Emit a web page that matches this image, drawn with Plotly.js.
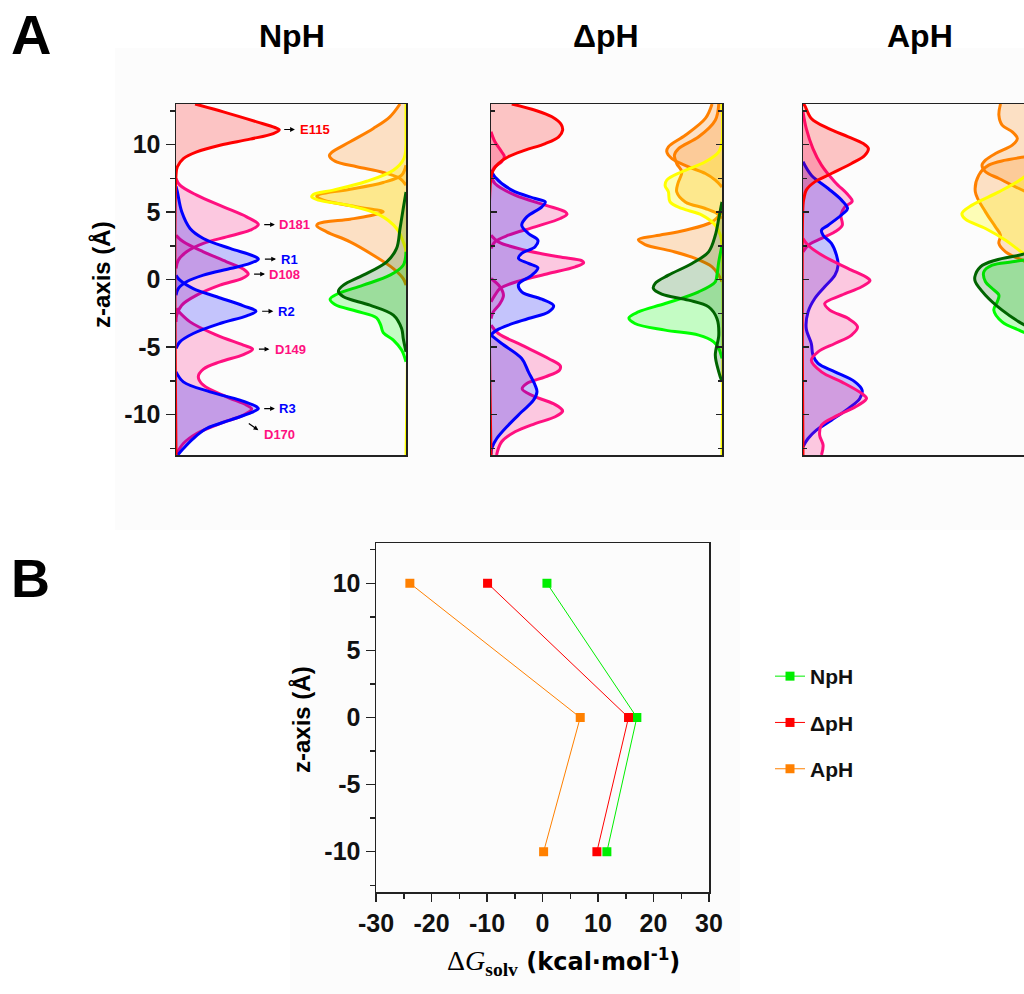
<!DOCTYPE html>
<html>
<head>
<meta charset="utf-8">
<script src="https://cdn.plot.ly/plotly-3.0.1.min.js"></script>
<style>
  html, body { margin: 0; padding: 0; overflow: hidden; background: #ffffff; }
  #fig { width: 1040px; height: 994px; }
</style>
</head>
<body>
<div id="fig"></div>
<script>
// ---------- Panel A: density profiles along z (Å); density in % of panel width ----------
// NpH, left-hand residues
const npE115Z = [13, 12.42, 11.68, 11.26, 11.09, 10.81, 10.40, 9.95, 9.46, 8.96, 8.35, 7.73, -13];
const npE115D = [8.3, 20.6, 35.1, 43.0, 44.9, 42.3, 32.2, 19.1, 9.0, 3.2, 0.6, 0, 0];
const npD181Z = [7.48, 6.99, 6.25, 5.38, 4.64, 4.07, 3.65, 3.16, 2.67, 2.05, 1.43, 0.81];
const npD181D = [0, 1.7, 9.0, 20.6, 30.7, 35.8, 32.2, 22.0, 11.9, 4.6, 1.0, 0];
const npD108Z = [3.28, 2.79, 2.05, 1.31, 0.69, 0.40, 0.07, -0.42, -1.16, -1.90, -2.64, -3.14];
const npD108D = [0, 3.2, 11.9, 22.0, 30.0, 31.4, 28.6, 19.1, 9.0, 2.5, 0.3, 0];
const npD149Z = [-2.15, -3.14, -4.12, -4.86, -5.16, -5.56, -6.10, -6.64, -7.21, -7.83, -8.69, -9.31, -9.60, -10.05, -10.67, -11.41, -12.15, -12.89, -13];
const npD149D = [0, 6.1, 17.7, 29.3, 33.3, 29.3, 19.1, 11.9, 9.7, 11.9, 22.0, 30.7, 32.9, 29.3, 19.1, 9.0, 3.2, 0.3, 0];
const npR1Z = [6.9, 6.49, 5.01, 3.78, 3.04, 2.30, 1.75, 1.51, 1.19, 0.81, 0.32, -0.17, -0.67, -1.16];
const npR1D = [0, 0.6, 2.5, 6.1, 11.9, 23.5, 33.6, 35.8, 32.2, 23.5, 11.9, 4.6, 1.0, 0];
const npR2Z = [0.32, -0.05, -0.67, -1.28, -1.95, -2.35, -2.69, -3.26, -4.00, -4.62, -5.11];
const npR2D = [0, 1.7, 7.5, 17.7, 29.3, 34.8, 30.7, 19.1, 7.5, 1.7, 0];
const npR3Z = [-6.84, -7.58, -8.32, -8.94, -9.43, -9.56, -9.85, -10.42, -11.04, -11.78, -12.52, -13];
const npR3D = [0, 3.2, 14.8, 27.8, 35.1, 35.8, 32.9, 23.5, 13.3, 7.5, 3.2, 0.8];
// NpH, right-hand profiles (measured from the right edge)
const npOrgAZ = [13, 12.05, 11.19, 10.20, 9.41, 9.16, 8.77, 8.35, 7.93, 7.48, 6.99];
const npOrgAD = [2.6, 7.0, 14.2, 24.3, 32.3, 33.3, 30.9, 21.4, 9.9, 2.6, 0];
const npOrgBZ = [8.47, 7.73, 7.19, 6.69, 6.32, 6.17, 5.88, 5.38, 5.01, 4.72, 4.47, 4.15, 3.98, 3.53, 2.79, 1.80, 0.81, 0.07, -0.42];
const npOrgBD = [0, 1.9, 9.9, 24.3, 37.4, 38.8, 35.9, 21.4, 9.9, 15.7, 24.3, 38.1, 38.8, 34.5, 24.3, 14.2, 5.5, 1.2, 0];
const npYelZ = [13, 10.5, 9.95, 8.96, 8.10, 7.28, 6.62, 6.30, 6.12, 5.88, 5.46, 4.77, 3.78, 2.79, 2.05, -13];
const npYelD = [0, 0, 0, 0.9, 5.5, 17.1, 31.6, 40.3, 41.0, 38.1, 24.3, 11.3, 4.1, 1.2, 0, 0];
const npDkGZ = [6.49, 5.26, 3.78, 2.30, 1.31, 0.32, -0.42, -0.86, -1.28, -1.90, -2.64, -3.63, -4.37, -5.36];
const npDkGD = [0, 1.2, 2.6, 4.1, 8.4, 18.6, 27.2, 29.4, 27.2, 15.7, 5.5, 1.9, 1.2, 0];
const npLtGZ = [2.05, 1.06, 0.32, -0.42, -1.09, -1.46, -1.85, -2.35, -2.84, -3.38, -3.93, -4.49, -5.23, -6.10];
const npLtGD = [0, 1.2, 7.0, 18.6, 30.1, 33.0, 30.9, 21.4, 12.8, 11.0, 9.9, 5.5, 1.9, 0];

// ΔpH, left-hand residues
const dpE115Z = [13, 12.54, 12.05, 11.48, 11.06, 10.57, 10.07, 9.58, 9.09, 8.59, 8.10, 7.60, -13];
const dpE115D = [9.0, 19.1, 26.4, 30.4, 31.0, 29.3, 23.5, 14.8, 7.5, 3.2, 1.0, 0, 0];
const dpDaZ = [10.94, 10.20, 9.46, 9.09, 8.72, 8.35, 7.85];
const dpDaD = [0, 1.7, 4.6, 5.8, 4.6, 1.7, 0];
const dpDbZ = [7.73, 7.11, 6.25, 5.51, 5.01, 4.84, 4.52, 3.90, 3.28, 2.79, 2.30];
const dpDbD = [0, 1.7, 10.4, 23.5, 32.2, 32.9, 30.0, 19.1, 7.5, 1.7, 0];
const dpDcZ = [3.28, 2.79, 2.17, 1.68, 1.38, 1.23, 0.94, 0.44, -0.12, -0.67, -1.16, -1.65];
const dpDcD = [0, 3.2, 14.8, 29.3, 39.4, 40.1, 36.5, 24.9, 11.9, 3.9, 1.7, 0];
const dpDdZ = [0.07, -0.54, -1.16, -1.78, -2.40, -2.89];
const dpDdD = [0, 3.9, 5.4, 3.9, 1.0, 0];
const dpDeZ = [-3.38, -4.00, -4.86, -5.85, -6.40, -6.72, -7.21, -7.70, -8.10, -8.60, -9.20, -9.60, -9.75, -10.17, -10.67, -11.28, -12.02, -13];
const dpDeD = [0, 3.2, 13.3, 24.9, 30.0, 29.6, 23.5, 15.5, 13.5, 18.0, 27.0, 30.5, 31.0, 27.8, 19.1, 10.4, 4.6, 2.4];
const dpRaZ = [8.10, 7.60, 6.62, 6.00, 5.75, 5.38, 4.64, 4.02, 3.41, 2.91, 2.42, 1.93, 1.56, 1.19, 0.86, 0.32, -0.37, -0.91, -1.46, -1.95, -2.40, -2.89, -3.38, -3.75, -4.00, -4.25];
const dpRaD = [0, 1.7, 9.0, 19.1, 23.5, 22.0, 15.5, 13.3, 16.2, 20.3, 19.1, 13.3, 11.9, 16.2, 20.3, 17.7, 11.9, 13.3, 22.0, 27.1, 24.9, 16.2, 7.5, 2.5, 0.6, 0];
const dpRbZ = [-4.12, -4.74, -5.85, -6.84, -7.83, -8.32, -8.94, -9.80, -10.79, -11.78, -12.52, -12.96];
const dpRbD = [0, 4.6, 13.3, 16.2, 19.1, 19.9, 18.4, 13.3, 7.5, 2.5, 0.3, 0];
// ΔpH, right-hand profiles
const dpOrgAZ = [13, 11.93, 10.69, 9.83, 9.46, 8.96, 8.35, 7.85, 7.36, 6.86];
const dpOrgAD = [4.3, 7.2, 15.9, 23.2, 23.9, 21.7, 14.5, 7.2, 2.9, 0];
const dpOrgBZ = [13, 11.80, 10.57, 9.70, 9.21, 8.59, 7.98, 7.11, 6.49, 5.75, 5.26, 4.89, 4.52];
const dpOrgBD = [1.4, 2.9, 10.1, 18.8, 20.6, 19.6, 17.4, 19.1, 19.6, 15.9, 7.2, 2.2, 0];
const dpOrgCZ = [5.01, 4.27, 3.65, 3.23, 2.96, 2.59, 2.10, 1.56, 0.94, 0.32, -0.17];
const dpOrgCD = [0, 4.3, 15.9, 29.0, 36.2, 33.3, 21.7, 11.6, 4.3, 1.4, 0];
const dpYelZ = [13, 10.2, 9.46, 8.72, 7.98, 7.36, 6.94, 6.49, 5.75, 5.26, 4.77, 4.02, 3.28, 2.54, -13];
const dpYelD = [0, 0, 1.4, 7.2, 17.4, 23.9, 24.6, 23.2, 22.5, 17.4, 8.7, 2.9, 0.7, 0, 0];
const dpDkGZ = [5.75, 4.52, 3.28, 2.05, 1.19, 0.32, -0.30, -0.67, -1.09, -1.53, -2.03, -2.89, -4.12, -5.60, -6.84, -7.58];
const dpDkGD = [0, 1.4, 2.9, 5.8, 13.0, 23.2, 29.0, 29.7, 26.1, 14.5, 5.8, 2.2, 1.4, 2.9, 1.4, 0];
const dpLtGZ = [2.54, 1.31, 0.32, -0.17, -0.91, -1.78, -2.40, -2.84, -3.26, -3.75, -4.12, -4.62, -5.11, -5.85];
const dpLtGD = [0, 1.4, 2.2, 2.9, 10.1, 24.6, 36.2, 40.3, 37.7, 24.6, 10.1, 3.6, 1.4, 0];

// ApH, left-hand residues
const apE115Z = [13, 12.9, 11.93, 11.19, 10.57, 10.07, 9.70, 9.21, 8.59, 7.85, 7.23, 6.62, 6.00, 5.51, -13];
const apE115D = [0, 0.7, 3.6, 10.9, 19.6, 26.1, 28.3, 26.8, 21.0, 12.3, 5.1, 1.4, 0.4, 0, 0];
const apDaZ = [12.42, 11.19, 9.70, 8.47, 7.23, 6.25, 5.80, 5.38, 4.77, 4.02, 3.53, 3.04, 2.62, 2.05];
const apDaD = [0, 1.4, 4.3, 8.0, 13.8, 19.6, 21.3, 18.1, 16.4, 17.0, 13.8, 8.0, 2.9, 0];
const apRaZ = [8.72, 7.73, 6.74, 5.88, 5.26, 4.89, 4.02, 3.65, 3.28, 2.67, 1.80, 1.06, 0.32, -0.54, -1.41, -2.40, -3.63, -4.74, -5.60, -6.22, -6.84, -7.58, -8.20, -8.81, -9.56, -10.42, -11.16, -11.78, -12.39];
const apRaD = [0, 3.6, 10.9, 16.7, 19.3, 17.4, 10.9, 8.0, 8.7, 12.3, 14.5, 15.2, 13.8, 9.4, 5.1, 2.2, 1.4, 3.6, 4.3, 6.5, 13.8, 22.5, 25.6, 24.6, 19.6, 12.3, 5.8, 2.2, 0];
const apDbZ = [3.04, 2.54, 1.68, 0.81, 0.07, -0.10, -0.54, -1.16, -1.78, -2.27, -2.89, -3.51, -4.12, -4.74, -5.36, -5.98, -6.84, -7.58, -8.44, -8.81, -9.31, -10.05, -10.79, -11.53, -12.27, -13];
const apDbD = [0, 2.2, 9.4, 19.6, 28.3, 29.0, 25.4, 16.7, 9.4, 11.6, 19.6, 23.6, 21.0, 13.8, 6.5, 3.6, 8.0, 16.7, 25.4, 27.5, 23.9, 15.2, 8.0, 7.2, 8.7, 8.0];
// ApH, right-hand profiles
const apOrgAZ = [13, 12.17, 11.43, 10.94, 10.44, 9.95, 9.33, 8.84, 8.47, 7.98, 7.48, 6.74, 6.25];
const apOrgAD = [14.5, 15.2, 13.8, 9.4, 7.2, 9.4, 16.7, 21.0, 22.5, 21.0, 15.2, 6.5, 0];
const apOrgBZ = [9.21, 9.09, 8.84, 8.47, 7.73, 6.49, 5.01, 3.90, 3.28, 2.67, 2.05, 1.43, 1.06];
const apOrgBD = [0, 3.6, 12.3, 19.6, 23.9, 25.4, 21.0, 16.7, 14.5, 15.2, 12.3, 5.1, 0];
const apYelZ = [8.22, 7.48, 6.49, 5.51, 4.89, 4.47, 3.78, 2.91, 2.17, 1.68, 1.31];
const apYelD = [0, 5.1, 15.2, 26.8, 31.2, 29.7, 21.0, 12.3, 6.5, 2.2, 0];
const apDkGZ = [2.05, 1.80, 1.43, 0.94, 0.20, -0.17, -1.16, -2.27, -3.14, -3.75];
const apDkGD = [0, 6.5, 16.7, 23.2, 25.6, 25.4, 21.0, 13.8, 6.5, 0];
const apLtGZ = [1.56, 1.31, 1.06, 0.57, -0.17, -0.67, -1.16, -1.65, -2.27, -3.14, -3.75, -4.25];
const apLtGD = [0, 9.4, 18.1, 21.7, 21.0, 18.1, 15.2, 15.9, 17.4, 13.8, 6.5, 0];

// ---------- Panel B: solvation free energy per z level ----------
const zLevels = [10, 0, -10];
const dGNpH = [0.8, 17.0, 11.6];
const dGdpH = [-9.9, 15.5, 9.8];
const dGApH = [-23.9, 6.8, 0.2];
const conditionNames = ['NpH', 'ΔpH', 'ApH'];

// tick labels (plain hyphen as minus sign)
const zTickVals = [-10, -5, 0, 5, 10];
const zTickText = ['-10', '-5', '0', '5', '10'];
const gTickVals = [-30, -20, -10, 0, 10, 20, 30];
const gTickText = ['-30', '-20', '-10', '0', '10', '20', '30'];

// residue labels in the NpH panel: [name, z, arrow tail, arrow head, text start]
const residueLabels = [
  ['E115', 11.11, 46.4, 51.7, 53.2],
  ['D181', 4.07, 37.7, 43.0, 44.1],
  ['R1', 1.51, 38.0, 43.5, 44.9],
  ['D108', 0.40, 33.3, 38.7, 39.7],
  ['R2', -2.35, 36.8, 42.3, 43.5],
  ['D149', -5.16, 35.4, 40.6, 42.0],
  ['R3', -9.56, 37.7, 43.0, 43.8]
];

// ---------- styling ----------
const FONT = 'Liberation Sans, Arial, sans-serif';
const C = {
  red: '#ff0000', blue: '#0000ff', pink: '#ff1080', orange: '#ff8000',
  yellow: '#ffff00', dkgreen: '#006400', ltgreen: '#00ff00'
};
const F = {
  red: 'rgba(255,0,0,0.22)', blue: 'rgba(0,0,255,0.22)', pink: 'rgba(255,16,128,0.22)',
  orange: 'rgba(255,128,0,0.22)', yellow: 'rgba(255,255,0,0.28)',
  dkgreen: 'rgba(0,100,0,0.2)', ltgreen: 'rgba(0,255,0,0.22)'
};
const labelColor = { E: C.red, D: C.pink, R: C.blue };

function profile(z, d, key, xa, ya) {
  return {
    type: 'scatter', mode: 'lines', x: d, y: z, xaxis: xa, yaxis: ya,
    line: { color: C[key], width: 3, shape: 'spline', smoothing: 1 },
    fill: 'tozerox', fillcolor: F[key], showlegend: false, hoverinfo: 'skip'
  };
}

const W = 1040, H = 994;
const px = v => v / W;
const py = v => 1 - v / H;

const traces = [
  // NpH
  profile(npD181Z, npD181D, 'pink', 'x', 'y'),
  profile(npD108Z, npD108D, 'pink', 'x', 'y'),
  profile(npD149Z, npD149D, 'pink', 'x', 'y'),
  profile(npR1Z, npR1D, 'blue', 'x', 'y'),
  profile(npR2Z, npR2D, 'blue', 'x', 'y'),
  profile(npR3Z, npR3D, 'blue', 'x', 'y'),
  profile(npE115Z, npE115D, 'red', 'x', 'y'),
  profile(npOrgAZ, npOrgAD, 'orange', 'x2', 'y'),
  profile(npOrgBZ, npOrgBD, 'orange', 'x2', 'y'),
  profile(npYelZ, npYelD, 'yellow', 'x2', 'y'),
  profile(npLtGZ, npLtGD, 'ltgreen', 'x2', 'y'),
  profile(npDkGZ, npDkGD, 'dkgreen', 'x2', 'y'),
  // ΔpH
  profile(dpDaZ, dpDaD, 'pink', 'x3', 'y3'),
  profile(dpDbZ, dpDbD, 'pink', 'x3', 'y3'),
  profile(dpDcZ, dpDcD, 'pink', 'x3', 'y3'),
  profile(dpDdZ, dpDdD, 'pink', 'x3', 'y3'),
  profile(dpDeZ, dpDeD, 'pink', 'x3', 'y3'),
  profile(dpRaZ, dpRaD, 'blue', 'x3', 'y3'),
  profile(dpRbZ, dpRbD, 'blue', 'x3', 'y3'),
  profile(dpE115Z, dpE115D, 'red', 'x3', 'y3'),
  profile(dpOrgAZ, dpOrgAD, 'orange', 'x4', 'y3'),
  profile(dpOrgBZ, dpOrgBD, 'orange', 'x4', 'y3'),
  profile(dpOrgCZ, dpOrgCD, 'orange', 'x4', 'y3'),
  profile(dpYelZ, dpYelD, 'yellow', 'x4', 'y3'),
  profile(dpLtGZ, dpLtGD, 'ltgreen', 'x4', 'y3'),
  profile(dpDkGZ, dpDkGD, 'dkgreen', 'x4', 'y3'),
  // ApH
  profile(apDaZ, apDaD, 'pink', 'x5', 'y4'),
  profile(apRaZ, apRaD, 'blue', 'x5', 'y4'),
  profile(apDbZ, apDbD, 'pink', 'x5', 'y4'),
  profile(apE115Z, apE115D, 'red', 'x5', 'y4'),
  profile(apOrgAZ, apOrgAD, 'orange', 'x6', 'y4'),
  profile(apOrgBZ, apOrgBD, 'orange', 'x6', 'y4'),
  profile(apYelZ, apYelD, 'yellow', 'x6', 'y4'),
  profile(apLtGZ, apLtGD, 'ltgreen', 'x6', 'y4'),
  profile(apDkGZ, apDkGD, 'dkgreen', 'x6', 'y4')
];

// Panel B lines
[[dGNpH, '#00ee00'], [dGdpH, '#ff0000'], [dGApH, '#ff8000']].forEach((s, i) => {
  traces.push({
    type: 'scatter', mode: 'lines+markers', name: conditionNames[i], legendgroup: 'g' + i,
    x: s[0], y: zLevels, xaxis: 'x7', yaxis: 'y5',
    line: { color: s[1], width: 1 },
    marker: { symbol: 'square', size: 9, color: s[1] },
    hoverinfo: 'x+y'
  });
});

const frame = { showline: true, linecolor: '#222', linewidth: 1.5, mirror: true, zeroline: false, showgrid: false };
const hiddenX = { showticklabels: false, ticks: '', showgrid: false, zeroline: false };
const tickFont = { family: FONT, size: 25, color: '#111', weight: 'bold' };
const yDom = [py(455), py(104)];
const zRange = [-13, 13];

function innerTicks(len, mlen) {
  return { ticks: 'inside', ticklen: len, tickwidth: 1.5, tickcolor: '#222',
           minor: { ticks: 'inside', tick0: 0, dtick: 2.5, ticklen: mlen, tickwidth: 1.5, tickcolor: '#222' } };
}
const zArrayTicks = { tickmode: 'array', tickvals: zTickVals, ticktext: zTickText };

const layout = {
  width: W, height: H,
  margin: { l: 0, r: 0, t: 0, b: 0 },
  paper_bgcolor: '#ffffff', plot_bgcolor: '#ffffff',
  font: { family: FONT, color: '#111' },
  showlegend: true,
  legend: {
    x: px(770), y: py(656), xanchor: 'left', yanchor: 'top',
    font: { family: FONT, size: 21, weight: 'bold', color: '#111' },
    tracegroupgap: 16, bgcolor: 'rgba(0,0,0,0)', itemwidth: 30
  },
  // NpH
  xaxis: Object.assign({}, frame, hiddenX, { domain: [px(176), px(406)], range: [0, 100], anchor: 'y' }),
  xaxis2: Object.assign({}, hiddenX, { domain: [px(176), px(406)], range: [100, 0], anchor: 'y', overlaying: 'x', showline: false }),
  yaxis: Object.assign({}, frame, zArrayTicks, {
    domain: yDom, range: zRange, anchor: 'x',
    ticks: 'outside', ticklen: 9, tickwidth: 1.5, tickcolor: '#222',
    minor: { ticks: 'outside', tick0: 0, dtick: 2.5, ticklen: 5, tickwidth: 1.5, tickcolor: '#222' },
    tickfont: tickFont
  }),
  yaxis2: Object.assign({ overlaying: 'y', side: 'right', anchor: 'x', range: zRange, tick0: 0, dtick: 5,
    showticklabels: false, showgrid: false, zeroline: false, showline: false }, innerTicks(6, 4)),
  // ΔpH
  xaxis3: Object.assign({}, frame, hiddenX, { domain: [px(491), px(722)], range: [0, 100], anchor: 'y3' }),
  xaxis4: Object.assign({}, hiddenX, { domain: [px(491), px(722)], range: [100, 0], anchor: 'y3', overlaying: 'x3', showline: false }),
  yaxis3: Object.assign({}, frame, innerTicks(6, 4), { domain: yDom, range: zRange, anchor: 'x3', tick0: 0, dtick: 5,
    showticklabels: false, mirror: 'ticks' }),
  // ApH
  xaxis5: Object.assign({}, frame, hiddenX, { domain: [px(803), px(1034)], range: [0, 100], anchor: 'y4' }),
  xaxis6: Object.assign({}, hiddenX, { domain: [px(803), px(1034)], range: [100, 0], anchor: 'y4', overlaying: 'x5', showline: false }),
  yaxis4: Object.assign({}, frame, innerTicks(6, 4), { domain: yDom, range: zRange, anchor: 'x5', tick0: 0, dtick: 5,
    showticklabels: false, mirror: 'ticks' }),
  // Panel B
  xaxis7: Object.assign({}, frame, {
    domain: [px(376), px(709)], range: [-30, 30], anchor: 'y5',
    tickmode: 'array', tickvals: gTickVals, ticktext: gTickText,
    ticks: 'outside', ticklen: 8, tickwidth: 1.5, tickcolor: '#222',
    minor: { ticks: 'outside', tick0: 0, dtick: 5, ticklen: 5, tickwidth: 1.5, tickcolor: '#222' },
    tickfont: tickFont
  }),
  xaxis8: { overlaying: 'x7', side: 'top', anchor: 'y5', range: [-30, 30], tick0: 0, dtick: 10,
    showticklabels: false, showgrid: false, zeroline: false, showline: false,
    ticks: 'inside', ticklen: 8, tickwidth: 1.5, tickcolor: '#222',
    minor: { ticks: 'inside', tick0: 0, dtick: 5, ticklen: 5, tickwidth: 1.5, tickcolor: '#222' } },
  yaxis5: Object.assign({}, frame, zArrayTicks, {
    domain: [py(892), py(543)], range: zRange, anchor: 'x7',
    ticks: 'outside', ticklen: 9, tickwidth: 1.5, tickcolor: '#222',
    minor: { ticks: 'outside', tick0: 0, dtick: 2.5, ticklen: 5, tickwidth: 1.5, tickcolor: '#222' },
    tickfont: tickFont
  }),
  yaxis6: Object.assign({ overlaying: 'y5', side: 'right', anchor: 'x7', range: zRange, tick0: 0, dtick: 5,
    showticklabels: false, showgrid: false, zeroline: false, showline: false }, innerTicks(9, 5)),
  shapes: [
    { type: 'rect', xref: 'paper', yref: 'paper', layer: 'below', line: { width: 0 },
      x0: px(115), x1: 1, y0: py(530), y1: py(48), fillcolor: '#fcfcfc' },
    { type: 'rect', xref: 'paper', yref: 'paper', layer: 'below', line: { width: 0 },
      x0: px(290), x1: px(740), y0: 0, y1: py(530), fillcolor: '#fcfcfc' }
  ],
  annotations: []
};

const ann = layout.annotations;
function paperText(text, x, y, size, extra) {
  ann.push(Object.assign({ text, x: px(x), y: py(y), xref: 'paper', yref: 'paper', showarrow: false,
    xanchor: 'center', yanchor: 'middle', font: { family: FONT, size, color: '#000', weight: 'bold' } }, extra || {}));
}
paperText('A', 31, 35, 56);
paperText('B', 30, 578, 54);
paperText('NpH', 292, 36, 32);
paperText('ΔpH', 606, 36, 32);
paperText('ApH', 920, 36, 32);
paperText('z-axis (Å)', 101, 275, 24, { textangle: -90 });
paperText('z-axis (Å)', 301, 720, 24, { textangle: -90 });
paperText('<span style="font-family:\'Liberation Serif\',serif;font-weight:normal">Δ<i>G</i></span>' +
  '<sub><span style="font-family:\'Liberation Serif\',serif">solv</span></sub>' +
  '<span style="font-family:\'DejaVu Sans\',sans-serif;font-size:24px"> (kcal·mol<sup>-1</sup>)</span>',
  563, 962, 28);

residueLabels.forEach(r => {
  const col = labelColor[r[0][0]];
  ann.push({ xref: 'x', yref: 'y', axref: 'x', ayref: 'y', x: r[3], y: r[1], ax: r[2], ay: r[1],
    text: '', showarrow: true, arrowhead: 2, arrowsize: 0.8, arrowwidth: 1.2, arrowcolor: '#000',
    standoff: 0, startstandoff: 0 });
  ann.push({ xref: 'x', yref: 'y', x: r[4], y: r[1], text: r[0], showarrow: false, xanchor: 'left', yanchor: 'middle',
    font: { family: FONT, size: 13, color: col, weight: 'bold' } });
});
// D170 label sits below its peak with a slanted pointer
ann.push({ xref: 'x', yref: 'y', axref: 'x', ayref: 'y', x: 35.8, y: -11.16, ax: 31.0, ay: -10.59,
  text: '', showarrow: true, arrowhead: 2, arrowsize: 0.8, arrowwidth: 1.2, arrowcolor: '#000', standoff: 0, startstandoff: 0 });
ann.push({ xref: 'x', yref: 'y', x: 37.3, y: -11.46, text: 'D170', showarrow: false, xanchor: 'left', yanchor: 'middle',
  font: { family: FONT, size: 13, color: C.pink, weight: 'bold' } });

Plotly.newPlot('fig', traces, layout, { staticPlot: true, displayModeBar: false });
</script>
</body>
</html>
